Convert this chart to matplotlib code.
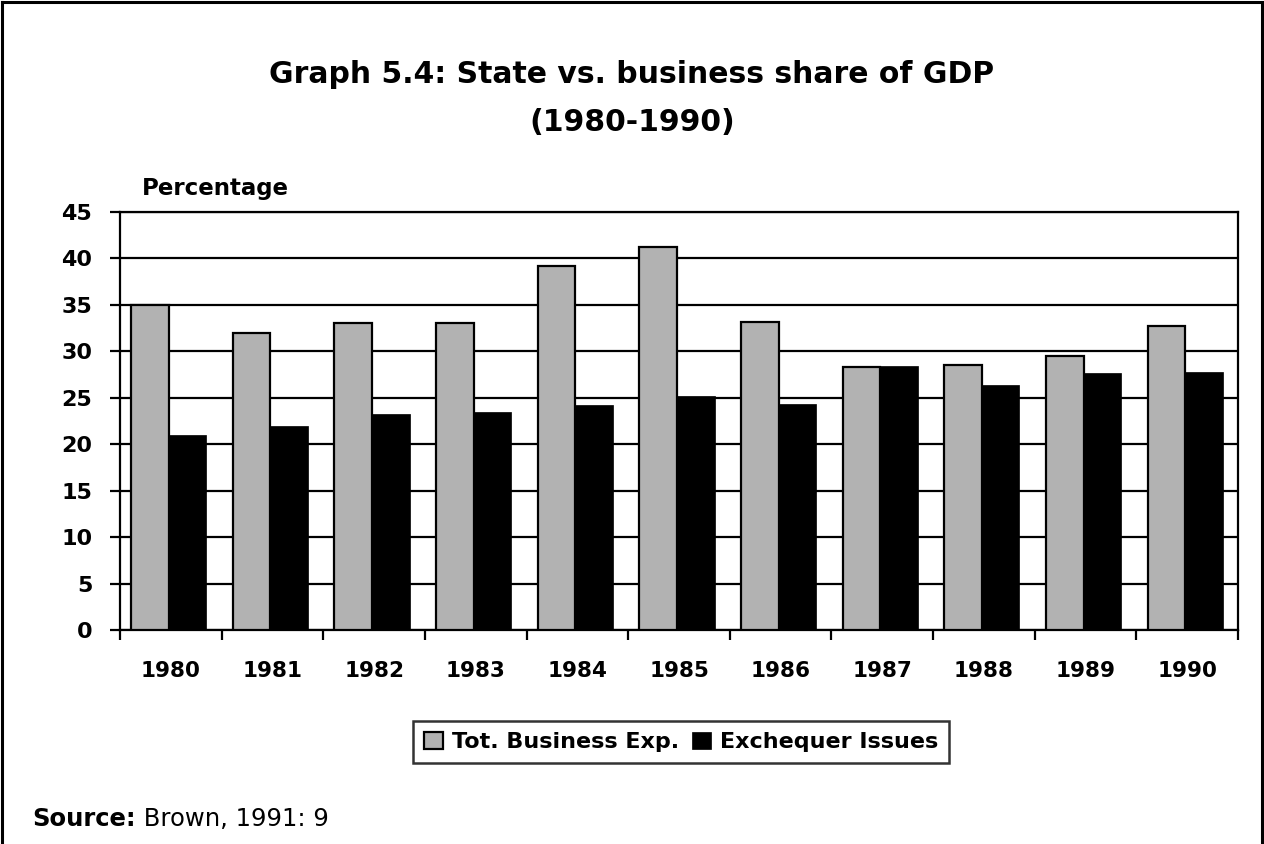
import matplotlib
matplotlib.use("Agg")
import matplotlib.pyplot as plt
from matplotlib.lines import Line2D
import numpy as np

years = ["1980", "1981", "1982", "1983", "1984", "1985", "1986", "1987", "1988", "1989", "1990"]
business_exp = [35.0, 32.0, 33.0, 33.0, 39.2, 41.2, 33.2, 28.3, 28.5, 29.5, 32.7]
exchequer = [21.0, 22.0, 23.2, 23.5, 24.2, 25.2, 24.3, 28.4, 26.4, 27.7, 27.8]
y_ticks = [0, 5, 10, 15, 20, 25, 30, 35, 40, 45]

title1 = "Graph 5.4: State vs. business share of GDP"
title2 = "(1980-1990)"
ylabel = "Percentage"
series_names = ["Tot. Business Exp.", "Exchequer Issues"]

W, H = 1264, 844
fig = plt.figure(figsize=(W / 100, H / 100), dpi=100)
fig.patch.set_facecolor("white")

def fx(px):
    return px / W

def fy(py):
    return 1 - py / H

ax = fig.add_axes([fx(120), fy(630), fx(1238) - fx(120), fy(212) - fy(630)])

x = np.arange(len(years))
bw = 0.37
gray = "#b2b2b2"
b1 = ax.bar(x - bw / 2 - 0.02, business_exp, width=bw, color=gray, edgecolor="black",
            linewidth=1.6, zorder=3, label=series_names[0])
b2 = ax.bar(x + bw / 2 - 0.02, exchequer, width=bw, color="black", edgecolor="black",
            linewidth=0.5, zorder=3, label=series_names[1])

ax.set_xlim(-0.5, len(years) - 0.5)
ax.set_ylim(0, 45)
ax.set_yticks(y_ticks)
ax.set_yticklabels([str(v) for v in y_ticks])
ax.yaxis.grid(True, color="black", linewidth=1.6, zorder=1)
ax.set_axisbelow(True)

ax.set_xticks(x)
ax.set_xticklabels(years)
ax.set_xticks(np.arange(-0.5, len(years), 1.0), minor=True)
ax.tick_params(axis="x", which="major", length=0, pad=22)
ax.tick_params(axis="x", which="minor", length=7, width=1.6, direction="out")
ax.tick_params(axis="y", which="major", length=7, width=1.6, direction="out", pad=13)

for lab in ax.get_xticklabels():
    lab.set_fontfamily("DejaVu Sans")
    lab.set_fontweight("bold")
    lab.set_fontsize(15.5)
for lab in ax.get_yticklabels():
    lab.set_fontfamily("DejaVu Sans")
    lab.set_fontweight("bold")
    lab.set_fontsize(16)

for sp in ax.spines.values():
    sp.set_linewidth(1.6)
    sp.set_color("black")

# Titles
fig.text(0.5, fy(83), title1, ha="center", va="baseline", fontsize=21.5,
         fontweight="bold", family="DejaVu Sans")
fig.text(0.5, fy(131), title2, ha="center", va="baseline", fontsize=21.5,
         fontweight="bold", family="DejaVu Sans")

# Y label
fig.text(fx(142), fy(195), ylabel, ha="left", va="baseline", fontsize=16.5,
         fontweight="bold", family="DejaVu Sans")

# Legend
leg = fig.legend(handles=[b1, b2], labels=series_names, loc="center",
                 bbox_to_anchor=(fx(681), fy(742)), ncol=2, frameon=True,
                 fancybox=False, shadow=False, handlelength=0.85, handleheight=0.85,
                 handletextpad=0.4, columnspacing=0.6, borderpad=0.5,
                 borderaxespad=0.0,
                 prop={"family": "DejaVu Sans", "weight": "bold", "size": 16})
leg.get_frame().set_edgecolor("black")
leg.get_frame().set_linewidth(1.8)

# Source line
renderer = fig.canvas.get_renderer()
t_src = fig.text(fx(32), fy(826), "Source:", ha="left", va="baseline",
                 fontsize=17.5, fontweight="bold", family="DejaVu Sans")
bb = t_src.get_window_extent(renderer=renderer)
fig.text(bb.x1 / W, fy(826), " Brown, 1991: 9", ha="left", va="baseline",
         fontsize=17.5, family="DejaVu Sans")

# Outer frame (top, left, right)
for xs, ys in [([fx(2), fx(1262)], [fy(2), fy(2)]),
               ([fx(2), fx(2)], [fy(2), 0]),
               ([fx(1262), fx(1262)], [fy(2), 0])]:
    fig.add_artist(Line2D(xs, ys, color="black", linewidth=2.2, transform=fig.transFigure))

fig.savefig("out.png", dpi=100, facecolor="white")
